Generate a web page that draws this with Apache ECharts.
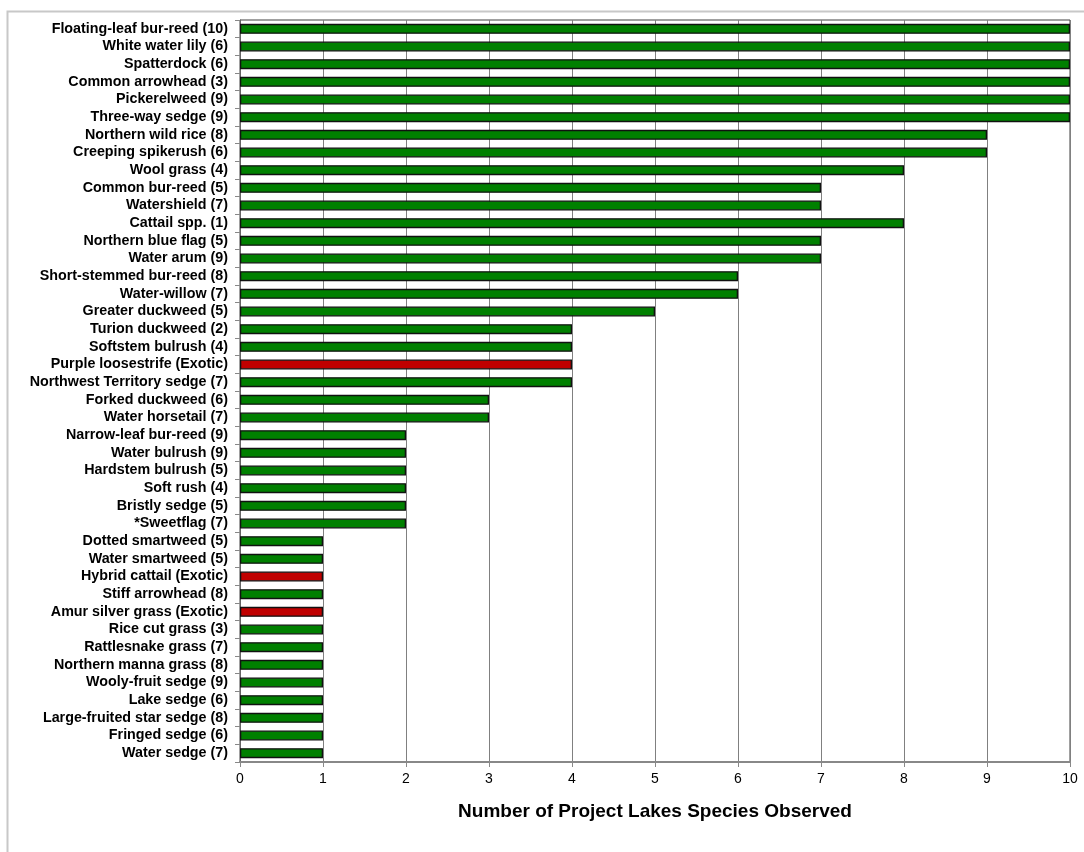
<!DOCTYPE html>
<html><head><meta charset="utf-8">
<script src="https://cdn.jsdelivr.net/npm/echarts@6/dist/echarts.min.js"></script>
<style>html,body{margin:0;padding:0;background:#fff}#c{width:1084px;height:852px}</style>
</head><body><div id="c"></div>
<script>
const categories = ["Floating-leaf bur-reed (10)","White water lily (6)","Spatterdock (6)","Common arrowhead (3)","Pickerelweed (9)","Three-way sedge (9)","Northern wild rice (8)","Creeping spikerush (6)","Wool grass (4)","Common bur-reed (5)","Watershield (7)","Cattail spp. (1)","Northern blue flag (5)","Water arum (9)","Short-stemmed bur-reed (8)","Water-willow (7)","Greater duckweed (5)","Turion duckweed (2)","Softstem bulrush (4)","Purple loosestrife (Exotic)","Northwest Territory sedge (7)","Forked duckweed (6)","Water horsetail (7)","Narrow-leaf bur-reed (9)","Water bulrush (9)","Hardstem bulrush (5)","Soft rush (4)","Bristly sedge (5)","*Sweetflag (7)","Dotted smartweed (5)","Water smartweed (5)","Hybrid cattail (Exotic)","Stiff arrowhead (8)","Amur silver grass (Exotic)","Rice cut grass (3)","Rattlesnake grass (7)","Northern manna grass (8)","Wooly-fruit sedge (9)","Lake sedge (6)","Large-fruited star sedge (8)","Fringed sedge (6)","Water sedge (7)"];
const values = [10,10,10,10,10,10,9,9,8,7,7,8,7,7,6,6,5,4,4,4,4,3,3,2,2,2,2,2,2,1,1,1,1,1,1,1,1,1,1,1,1,1];
const exotic = ["Purple loosestrife (Exotic)","Hybrid cattail (Exotic)","Amur silver grass (Exotic)"];
const xTitle = "Number of Project Lakes Species Observed";

const chart = echarts.init(document.getElementById('c'), null, {renderer:'canvas'});
chart.setOption({
  animation:false,
  graphic:[{type:'polyline',shape:{points:[[7.5,852],[7.5,11.5],[1084,11.5]]},style:{stroke:'#c8c8c8',lineWidth:2,fill:null}}],
  grid:{left:240,right:14,top:20,bottom:90,show:true,borderColor:'#404040',borderWidth:1,backgroundColor:'transparent'},
  xAxis:{type:'value',min:0,max:10,interval:1,
    name:xTitle,nameLocation:'middle',nameGap:40,
    nameTextStyle:{fontFamily:'Liberation Sans',fontWeight:'bold',fontSize:19,color:'#000'},
    axisLine:{show:true,lineStyle:{color:'#888',width:2}},
    axisTick:{show:true,length:5,lineStyle:{color:'#888'}},
    axisLabel:{fontFamily:'Liberation Sans',fontSize:14,color:'#000',margin:10},
    splitLine:{show:true,lineStyle:{color:'#808080',width:1}}},
  yAxis:{type:'category',data:categories,inverse:true,
    axisLine:{show:true,lineStyle:{color:'#666'}},
    axisTick:{show:true,length:5,alignWithLabel:false,lineStyle:{color:'#888'}},
    axisLabel:{fontFamily:'Liberation Sans',fontWeight:'bold',fontSize:14.3,color:'#000',margin:12,interval:0}},
  series:[{type:'bar',barWidth:10,
    data:values.map((v,i)=>({value:v,itemStyle:{color:exotic.includes(categories[i])?'#c00000':'#008000'}})),
    itemStyle:{borderColor:'#111',borderWidth:1.3}}]
});
</script></body></html>
